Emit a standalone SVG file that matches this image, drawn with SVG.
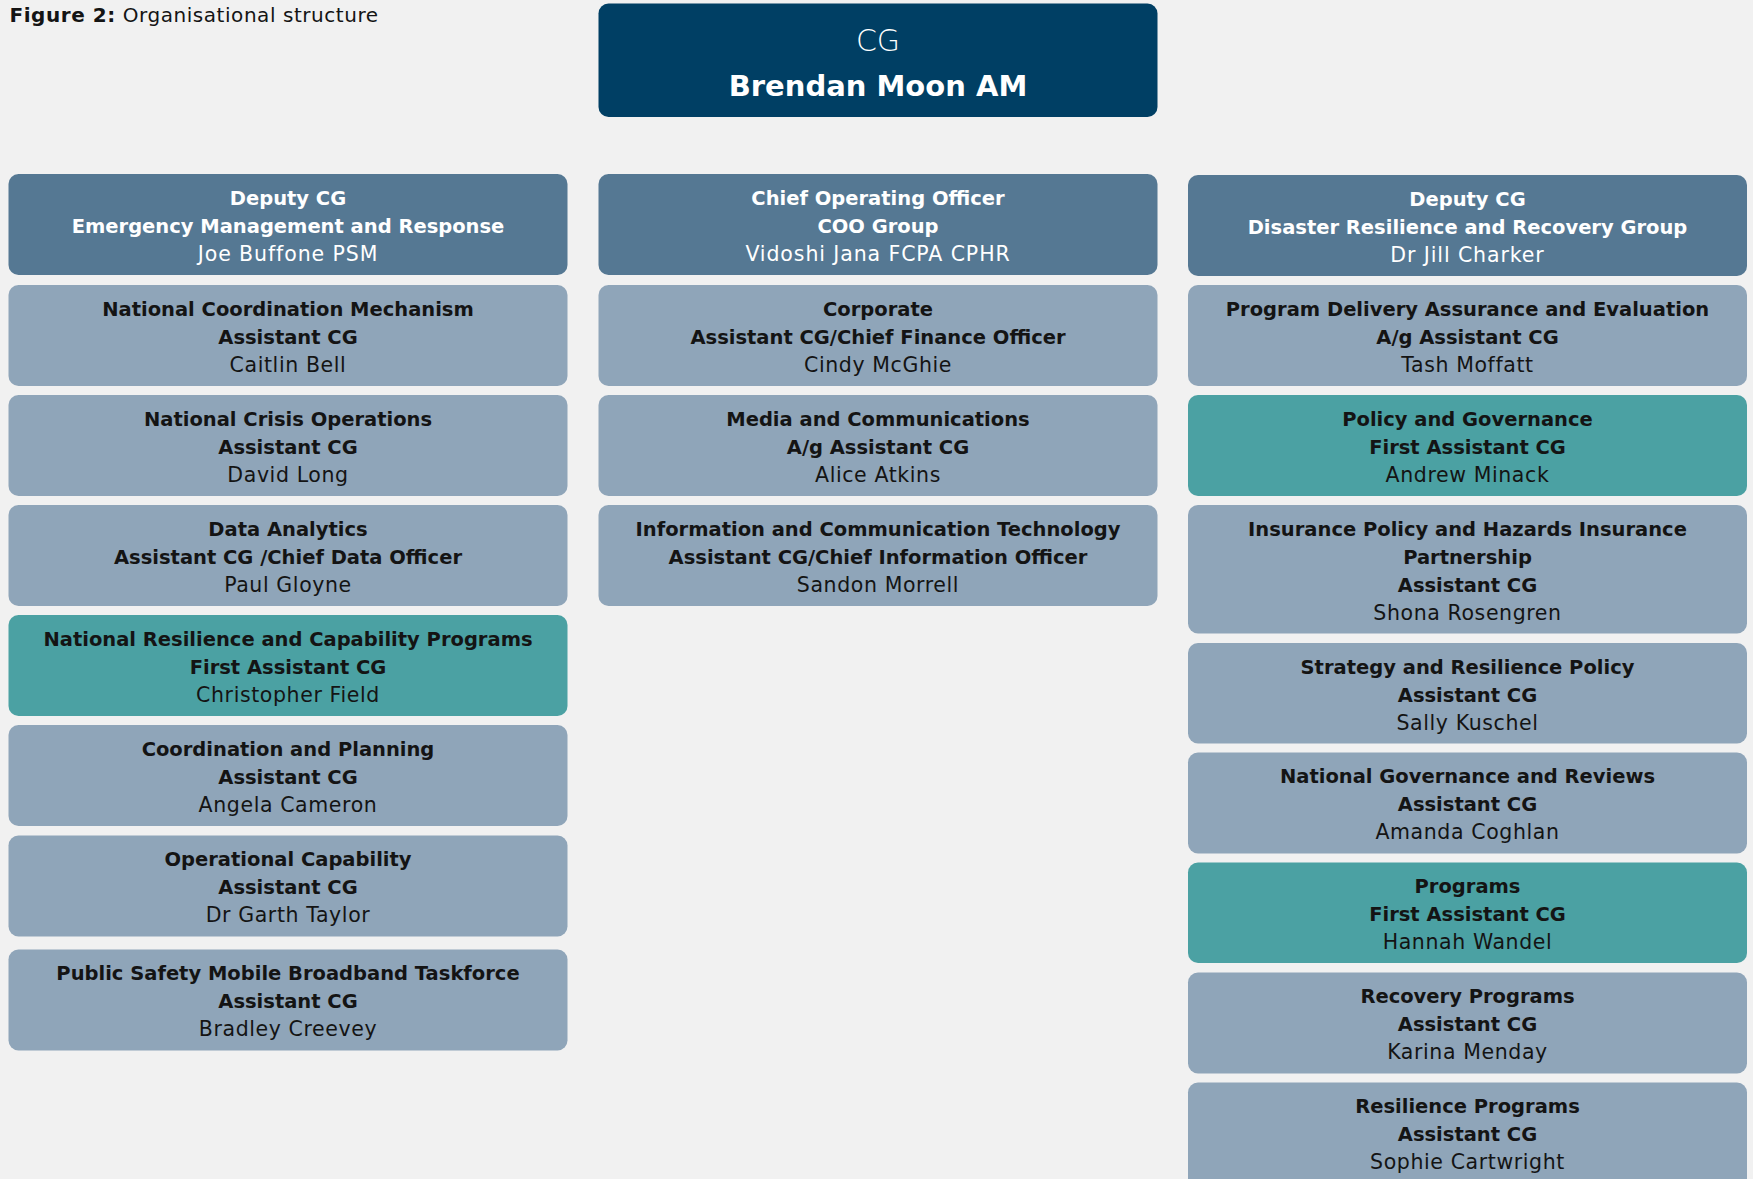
<svg xmlns="http://www.w3.org/2000/svg" width="1753" height="1179" viewBox="0 0 1753 1179">
<style>
.cg{fill:#003f64}
.dep{fill:#557893}
.sub{fill:#8fa5b9}
.fa{fill:#4ba1a3}
text{font-family:"DejaVu Sans","Liberation Sans",sans-serif;text-anchor:middle}
.t{font-size:19.5px;font-weight:bold;fill:#141414}
.n{font-size:20.5px;font-weight:normal;fill:#141414;letter-spacing:0.6px}
.w{fill:#ffffff}
.n.w{letter-spacing:0.9px}
</style>
<rect width="1753" height="1179" fill="#f1f1f1"/>
<text x="9.5" y="21.5" style="text-anchor:start;font-size:20px;letter-spacing:0.55px;fill:#141414"><tspan font-weight="bold">Figure 2:</tspan> Organisational structure</text>

<g id="connectors"/>

<g id="cg">
<rect class="cg" x="598.5" y="3.5" width="559" height="113.5" rx="10"/>
<text class="w" x="878" y="50.5" style="font-size:30px;font-weight:300">CG</text>
<text class="w" x="878" y="95.5" style="font-size:29px;font-weight:bold">Brendan Moon AM</text>
</g>

<!-- Left column -->
<g id="deputy-emr" transform="translate(8.5,174)">
<rect class="dep" width="559" height="101" rx="10"/>
<text class="t w" x="279.5" y="30.5">Deputy CG</text>
<text class="t w" x="279.5" y="58.5">Emergency Management and Response</text>
<text class="n w" x="279.5" y="86.5">Joe Buffone PSM</text>
</g>
<g id="ncm" transform="translate(8.5,285)">
<rect class="sub" width="559" height="101" rx="10"/>
<text class="t" x="279.5" y="30.5">National Coordination Mechanism</text>
<text class="t" x="279.5" y="58.5">Assistant CG</text>
<text class="n" x="279.5" y="86.5">Caitlin Bell</text>
</g>
<g id="nco" transform="translate(8.5,395)">
<rect class="sub" width="559" height="101" rx="10"/>
<text class="t" x="279.5" y="30.5">National Crisis Operations</text>
<text class="t" x="279.5" y="58.5">Assistant CG</text>
<text class="n" x="279.5" y="86.5">David Long</text>
</g>
<g id="data" transform="translate(8.5,505)">
<rect class="sub" width="559" height="101" rx="10"/>
<text class="t" x="279.5" y="30.5">Data Analytics</text>
<text class="t" x="279.5" y="58.5">Assistant CG /Chief Data Officer</text>
<text class="n" x="279.5" y="86.5">Paul Gloyne</text>
</g>
<g id="nrcp" transform="translate(8.5,615)">
<rect class="fa" width="559" height="101" rx="10"/>
<text class="t" x="279.5" y="30.5">National Resilience and Capability Programs</text>
<text class="t" x="279.5" y="58.5">First Assistant CG</text>
<text class="n" x="279.5" y="86.5">Christopher Field</text>
</g>
<g id="cp" transform="translate(8.5,725)">
<rect class="sub" width="559" height="101" rx="10"/>
<text class="t" x="279.5" y="30.5">Coordination and Planning</text>
<text class="t" x="279.5" y="58.5">Assistant CG</text>
<text class="n" x="279.5" y="86.5">Angela Cameron</text>
</g>
<g id="opcap" transform="translate(8.5,835.5)">
<rect class="sub" width="559" height="101" rx="10"/>
<text class="t" x="279.5" y="30.5">Operational Capability</text>
<text class="t" x="279.5" y="58.5">Assistant CG</text>
<text class="n" x="279.5" y="86.5">Dr Garth Taylor</text>
</g>
<g id="psmb" transform="translate(8.5,949.5)">
<rect class="sub" width="559" height="101" rx="10"/>
<text class="t" x="279.5" y="30.5">Public Safety Mobile Broadband Taskforce</text>
<text class="t" x="279.5" y="58.5">Assistant CG</text>
<text class="n" x="279.5" y="86.5">Bradley Creevey</text>
</g>

<!-- Middle column -->
<g id="coo" transform="translate(598.5,174)">
<rect class="dep" width="559" height="101" rx="10"/>
<text class="t w" x="279.5" y="30.5">Chief Operating Officer</text>
<text class="t w" x="279.5" y="58.5">COO Group</text>
<text class="n w" x="279.5" y="86.5">Vidoshi Jana FCPA CPHR</text>
</g>
<g id="corporate" transform="translate(598.5,285)">
<rect class="sub" width="559" height="101" rx="10"/>
<text class="t" x="279.5" y="30.5">Corporate</text>
<text class="t" x="279.5" y="58.5">Assistant CG/Chief Finance Officer</text>
<text class="n" x="279.5" y="86.5">Cindy McGhie</text>
</g>
<g id="media" transform="translate(598.5,395)">
<rect class="sub" width="559" height="101" rx="10"/>
<text class="t" x="279.5" y="30.5">Media and Communications</text>
<text class="t" x="279.5" y="58.5">A/g Assistant CG</text>
<text class="n" x="279.5" y="86.5">Alice Atkins</text>
</g>
<g id="ict" transform="translate(598.5,505)">
<rect class="sub" width="559" height="101" rx="10"/>
<text class="t" x="279.5" y="30.5">Information and Communication Technology</text>
<text class="t" x="279.5" y="58.5">Assistant CG/Chief Information Officer</text>
<text class="n" x="279.5" y="86.5">Sandon Morrell</text>
</g>

<!-- Right column -->
<g id="deputy-drr" transform="translate(1188,175)">
<rect class="dep" width="559" height="101" rx="10"/>
<text class="t w" x="279.5" y="30.5">Deputy CG</text>
<text class="t w" x="279.5" y="58.5">Disaster Resilience and Recovery Group</text>
<text class="n w" x="279.5" y="86.5">Dr Jill Charker</text>
</g>
<g id="pdae" transform="translate(1188,285)">
<rect class="sub" width="559" height="101" rx="10"/>
<text class="t" x="279.5" y="30.5">Program Delivery Assurance and Evaluation</text>
<text class="t" x="279.5" y="58.5">A/g Assistant CG</text>
<text class="n" x="279.5" y="86.5">Tash Moffatt</text>
</g>
<g id="pg" transform="translate(1188,395)">
<rect class="fa" width="559" height="101" rx="10"/>
<text class="t" x="279.5" y="30.5">Policy and Governance</text>
<text class="t" x="279.5" y="58.5">First Assistant CG</text>
<text class="n" x="279.5" y="86.5">Andrew Minack</text>
</g>
<g id="insurance" transform="translate(1188,505)">
<rect class="sub" width="559" height="128.5" rx="10"/>
<text class="t" x="279.5" y="30.5">Insurance Policy and Hazards Insurance</text>
<text class="t" x="279.5" y="58.5">Partnership</text>
<text class="t" x="279.5" y="86.5">Assistant CG</text>
<text class="n" x="279.5" y="114.5">Shona Rosengren</text>
</g>
<g id="srp" transform="translate(1188,643)">
<rect class="sub" width="559" height="100.5" rx="10"/>
<text class="t" x="279.5" y="30.5">Strategy and Resilience Policy</text>
<text class="t" x="279.5" y="58.5">Assistant CG</text>
<text class="n" x="279.5" y="86.5">Sally Kuschel</text>
</g>
<g id="ngr" transform="translate(1188,752.5)">
<rect class="sub" width="559" height="101" rx="10"/>
<text class="t" x="279.5" y="30.5">National Governance and Reviews</text>
<text class="t" x="279.5" y="58.5">Assistant CG</text>
<text class="n" x="279.5" y="86.5">Amanda Coghlan</text>
</g>
<g id="programs" transform="translate(1188,862.5)">
<rect class="fa" width="559" height="100.5" rx="10"/>
<text class="t" x="279.5" y="30.5">Programs</text>
<text class="t" x="279.5" y="58.5">First Assistant CG</text>
<text class="n" x="279.5" y="86.5">Hannah Wandel</text>
</g>
<g id="recovery" transform="translate(1188,972.5)">
<rect class="sub" width="559" height="101" rx="10"/>
<text class="t" x="279.5" y="30.5">Recovery Programs</text>
<text class="t" x="279.5" y="58.5">Assistant CG</text>
<text class="n" x="279.5" y="86.5">Karina Menday</text>
</g>
<g id="resilience" transform="translate(1188,1082.5)">
<rect class="sub" width="559" height="110" rx="10"/>
<text class="t" x="279.5" y="30.5">Resilience Programs</text>
<text class="t" x="279.5" y="58.5">Assistant CG</text>
<text class="n" x="279.5" y="86.5">Sophie Cartwright</text>
</g>
</svg>
